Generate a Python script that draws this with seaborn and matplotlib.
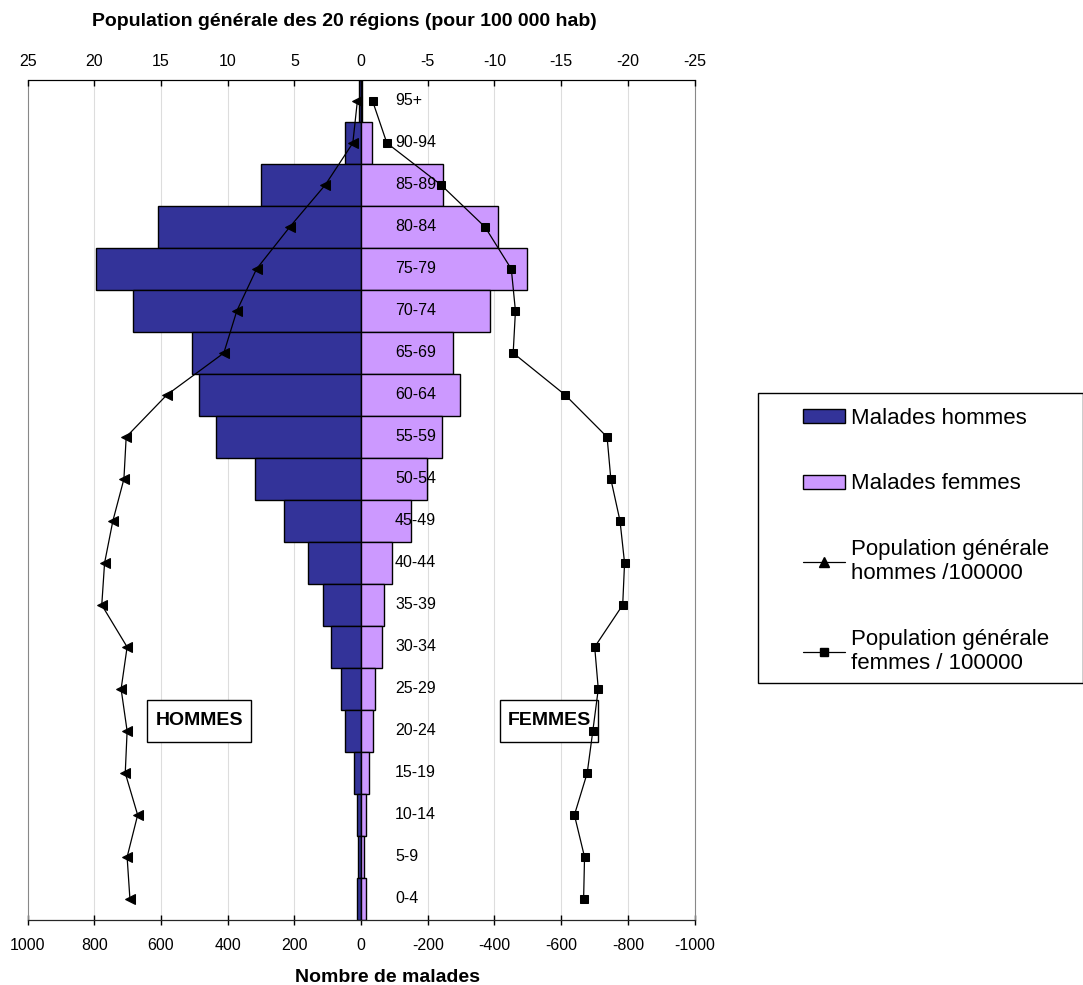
import numpy as np
import pandas as pd
import matplotlib
matplotlib.use("Agg")
import matplotlib.pyplot as plt
from matplotlib.patches import Patch, Rectangle
from matplotlib.lines import Line2D
import seaborn as sns

# age groups, top to bottom
classes = ["95+", "90-94", "85-89", "80-84", "75-79", "70-74", "65-69", "60-64",
           "55-59", "50-54", "45-49", "40-44", "35-39", "30-34", "25-29", "20-24",
           "15-19", "10-14", "5-9", "0-4"]

# number of patients
malades_hommes = [6, 48, 301, 608, 794, 685, 508, 486, 434, 319,
                  232, 159, 115, 91, 59, 48, 22, 11, 8, 12]
malades_femmes = [3, 32, 247, 410, 496, 388, 276, 296, 244, 199,
                  151, 94, 69, 64, 41, 36, 23, 15, 8, 14]

# general population per 100 000 (top axis)
pop_hommes = [0.28, 0.62, 2.69, 5.35, 7.84, 9.32, 10.29, 14.57, 17.61, 17.78,
              18.61, 19.23, 19.44, 17.54, 17.99, 17.54, 17.68, 16.75, 17.54, 17.33]
pop_femmes = [0.86, 1.93, 6.0, 9.29, 11.26, 11.57, 11.4, 15.3, 18.44, 18.72,
              19.41, 19.75, 19.61, 17.51, 17.78, 17.37, 16.95, 15.99, 16.75, 16.68]

bottom_ticks = [1000, 800, 600, 400, 200, 0, -200, -400, -600, -800, -1000]
top_ticks = [25, 20, 15, 10, 5, 0, -5, -10, -15, -20, -25]

COL_H = "#333399"
COL_F = "#CC99FF"

sns.set_style("white")
plt.rcParams["font.family"] = ["Liberation Sans", "DejaVu Sans"]
plt.rcParams["axes.unicode_minus"] = False
plt.rcParams["text.color"] = "black"
plt.rcParams["axes.labelcolor"] = "black"
plt.rcParams["xtick.color"] = "black"

df = pd.DataFrame({
    "classe": classes,
    "hommes": malades_hommes,
    "femmes": [-v for v in malades_femmes],
    "pop_h": pop_hommes,
    "pop_f": [-v for v in pop_femmes],
    "pos": np.arange(len(classes)),
})

W, H = 1083, 985
fig = plt.figure(figsize=(W / 100, H / 100), dpi=100)
ax = fig.add_axes([27.6 / W, 1 - 920 / H, 667 / W, 840 / H])

sns.barplot(data=df, x="hommes", y="classe", orient="h", color=COL_H, saturation=1,
            width=1, edgecolor="black", linewidth=1, ax=ax, zorder=2)
sns.barplot(data=df, x="femmes", y="classe", orient="h", color=COL_F, saturation=1,
            width=1, edgecolor="black", linewidth=1, ax=ax, zorder=2)

ax.set_xlim(1000, -1000)
ax.set_ylim(len(classes) - 0.5, -0.5)
ax.set_xticks(bottom_ticks)
ax.set_xticklabels([str(t) for t in bottom_ticks])
ax.set_yticks([])
ax.set_ylabel("")
ax.set_xlabel("Nombre de malades", fontsize=14, fontweight="bold", va="center")
ax.xaxis.set_label_coords((388 - 27.6) / 667, (920 - 977) / 840)
ax.tick_params(axis="x", direction="inout", length=7, width=1, pad=9.5,
               labelsize=11.5, colors="black", bottom=True)
for x in bottom_ticks[1:-1]:
    ax.axvline(x, color="#dddddd", lw=0.8, zorder=0)
ax.spines["bottom"].set_color("black")
ax.spines["left"].set_color("#888888")
ax.spines["right"].set_color("#888888")
ax.spines["top"].set_color("black")

# age group labels, just right of zero
for i, c in enumerate(classes):
    ax.text(-102, i, c, ha="left", va="center", fontsize=11.5, color="black", zorder=3)

# HOMMES / FEMMES boxes
for x0, x1, txt in [(641.7, 329.8, "HOMMES"), (-416.8, -710.6, "FEMMES")]:
    ax.add_patch(Rectangle((x1, 14.26), x0 - x1, 1.0, fc="white", ec="black",
                           lw=1, zorder=1))
    ax.text((x0 + x1) / 2, 14.76, txt, ha="center", va="center", fontsize=14,
            fontweight="bold", color="black", zorder=1)

# population lines on top axis
ax2 = ax.twiny()
sns.lineplot(data=df, x="pop_h", y="pos", orient="y", sort=False, estimator=None,
             color="black", lw=0.9, marker="<", markersize=7, mec="black",
             ax=ax2, zorder=4)
sns.lineplot(data=df, x="pop_f", y="pos", orient="y", sort=False, estimator=None,
             color="black", lw=0.9, marker="s", markersize=5.5, mec="black",
             ax=ax2, zorder=4)
ax2.set_xlim(25, -25)
ax2.set_ylim(len(classes) - 0.5, -0.5)
ax2.set_xticks(top_ticks)
ax2.set_xticklabels([str(t) for t in top_ticks])
ax2.tick_params(axis="x", direction="in", length=4, width=1, pad=8,
                labelsize=11.5, colors="black")
ax2.set_ylabel("")
ax2.set_yticks([])
ax2.set_xlabel("Population générale des 20 régions (pour 100 000 hab)",
               fontsize=14, fontweight="bold", va="center")
ax2.xaxis.set_label_coords((344 - 27.6) / 667, (920 - 21) / 840)
for s in ["left", "right"]:
    ax2.spines[s].set_visible(False)
ax2.spines["top"].set_color("black")

# legend box
fig.patches.append(Rectangle((758 / W, 1 - 683 / H), (1082.5 - 758) / W, (683 - 393) / H,
                             transform=fig.transFigure, fill=False,
                             edgecolor="black", lw=1))
handles = [
    Patch(facecolor=COL_H, edgecolor="black", lw=1),
    Patch(facecolor=COL_F, edgecolor="black", lw=1),
    Line2D([], [], color="black", lw=0.9, marker="^", markersize=7),
    Line2D([], [], color="black", lw=0.9, marker="s", markersize=5.5),
]
labels = ["Malades hommes", "Malades femmes",
          "Population générale\nhommes /100000",
          "Population générale\nfemmes / 100000"]
leg = fig.legend(handles, labels, loc="upper left", bbox_to_anchor=(803 / W, 1 - 408 / H),
                 frameon=False, borderpad=0, borderaxespad=0, fontsize=16,
                 handlelength=1.9, handleheight=0.6, handletextpad=0.25,
                 labelspacing=2.0, labelcolor="black")

fig.savefig("out.png", dpi=100)
